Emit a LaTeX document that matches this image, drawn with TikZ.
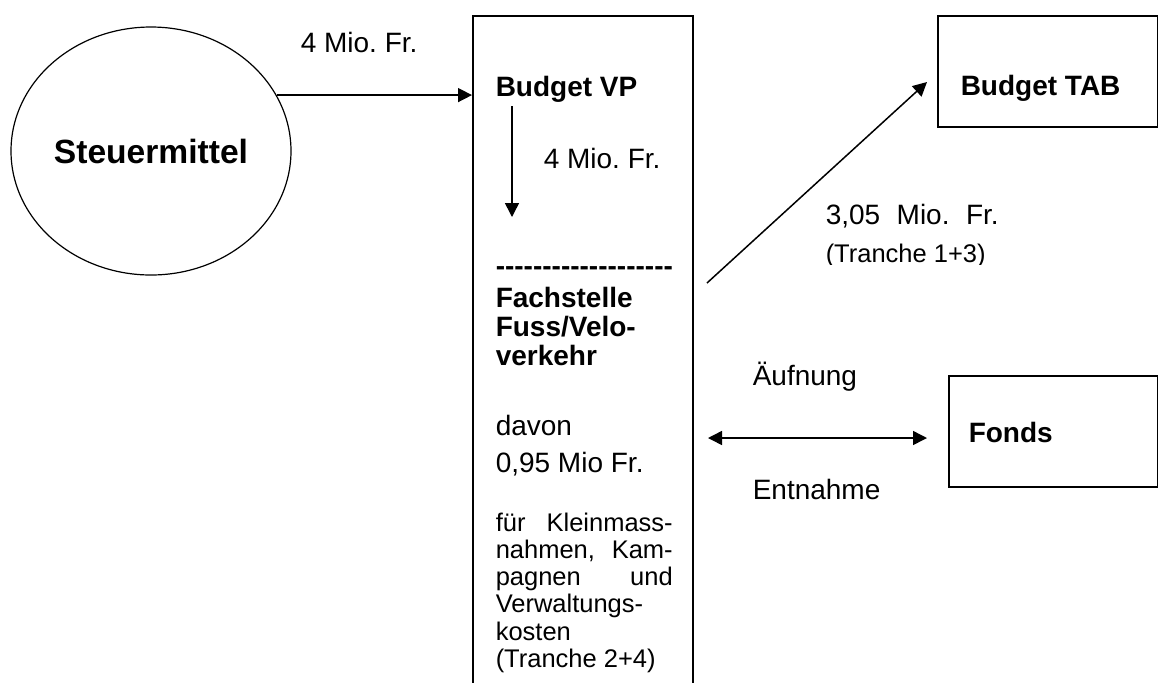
\documentclass[tikz,border=0pt]{standalone}
\usepackage{fontspec}
\setmainfont{Liberation Sans}
\usetikzlibrary{shapes.geometric, arrows.meta}
\frenchspacing

\newcommand{\dashrow}{-{}-{}-{}-{}-{}-{}-{}-{}-{}-{}-{}-{}-{}-{}-{}-{}-{}-{}-}

\begin{document}
\begin{tikzpicture}[x=0.5pt, y=-0.5pt, line width=0.75pt,
            arr/.style={-{Triangle[length=7pt, width=7pt]}},
            darr/.style={{Triangle[length=7pt, width=7pt]}-{Triangle[length=7pt, width=7pt]}},
            box/.style={draw, rectangle, inner sep=0pt, anchor=north west},
            txt/.style={inner sep=0pt, anchor=base west, font=\fontsize{14}{17}\selectfont},
            btxt/.style={txt, font=\fontsize{14}{14.5}\selectfont\bfseries},
            small/.style={txt, font=\fontsize{12.75}{13.6}\selectfont}
        ]
            \clip (0,0) rectangle (1158,682);

            \node[draw, ellipse, inner sep=0pt, line width=0.6pt, minimum width=140pt, minimum height=124pt,
                  font=\fontsize{16.8}{20}\selectfont\bfseries] (steuer) at (151,151) {Steuermittel};

            % Budget VP / Fachstelle
            \node[box, minimum width=110pt, minimum height=360pt] (vp) at (472,15) {};
            \node[btxt] (vpname) at (495,96) {Budget VP};
            \node[txt] (vpamount) at (543,168) {4 Mio. Fr.};
            \node[btxt] (sep) at (495,275) {\dashrow};
            \node[btxt, align=left, anchor=north west] (fach) at (495,286) {Fachstelle\\Fuss/Velo-\\verkehr};
            \node[txt] (davon) at (495,435) {davon};
            \node[txt] (part) at (495,472) {0,95 Mio Fr.};
            \node[small, text width=88.5pt, align=justify, anchor=north west] (usage) at (495,512)
                {für Kleinmass-\linebreak nahmen, Kam-\linebreak pagnen und\linebreak
                 Verwaltungs-\newline kosten\newline (Tranche 2+4)};

            \coordinate (dtop) at (512,106);
            \coordinate (dbot) at (512,217);
            \draw[arr] (dtop) -- (dbot);

            % Zufluss
            \node[txt] (inamount) at (300,52) {4 Mio. Fr.};
            \draw[arr] (steuer.24) -- (steuer.24 -| vp.west);

            % TAB
            \node[box, minimum width=109.75pt, minimum height=55.5pt] (tabbox) at (937,15) {};
            \node[btxt] (tab) at (960,95) {Budget TAB};
            \coordinate (vpout) at (707,283);
            \coordinate (tabin) at (927,82);
            \draw[arr] (vpout) -- (tabin);
            \node[txt] (tabamount) at (825,224) {\makebox[86.5pt][s]{3,05 Mio. Fr.}};
            \begin{scope}
                \clip (800,230) rectangle (1010,264);
                \node[small] (tabtranche) at (825,262) {(Tranche 1+3)};
            \end{scope}

            % Fonds
            \node[box, minimum width=104.25pt, minimum height=55.5pt] (fondsbox) at (948,375) {};
            \node[btxt] (fonds) at (968,442) {Fonds};
            \coordinate (fl) at (708,438);
            \coordinate (fr) at (927,438);
            \draw[darr] (fl) -- (fr);
            \node[txt] (auf) at (752,385) {Äufnung};
            \node[txt] (ent) at (752,499) {Entnahme};
        \end{tikzpicture}
\end{document}
